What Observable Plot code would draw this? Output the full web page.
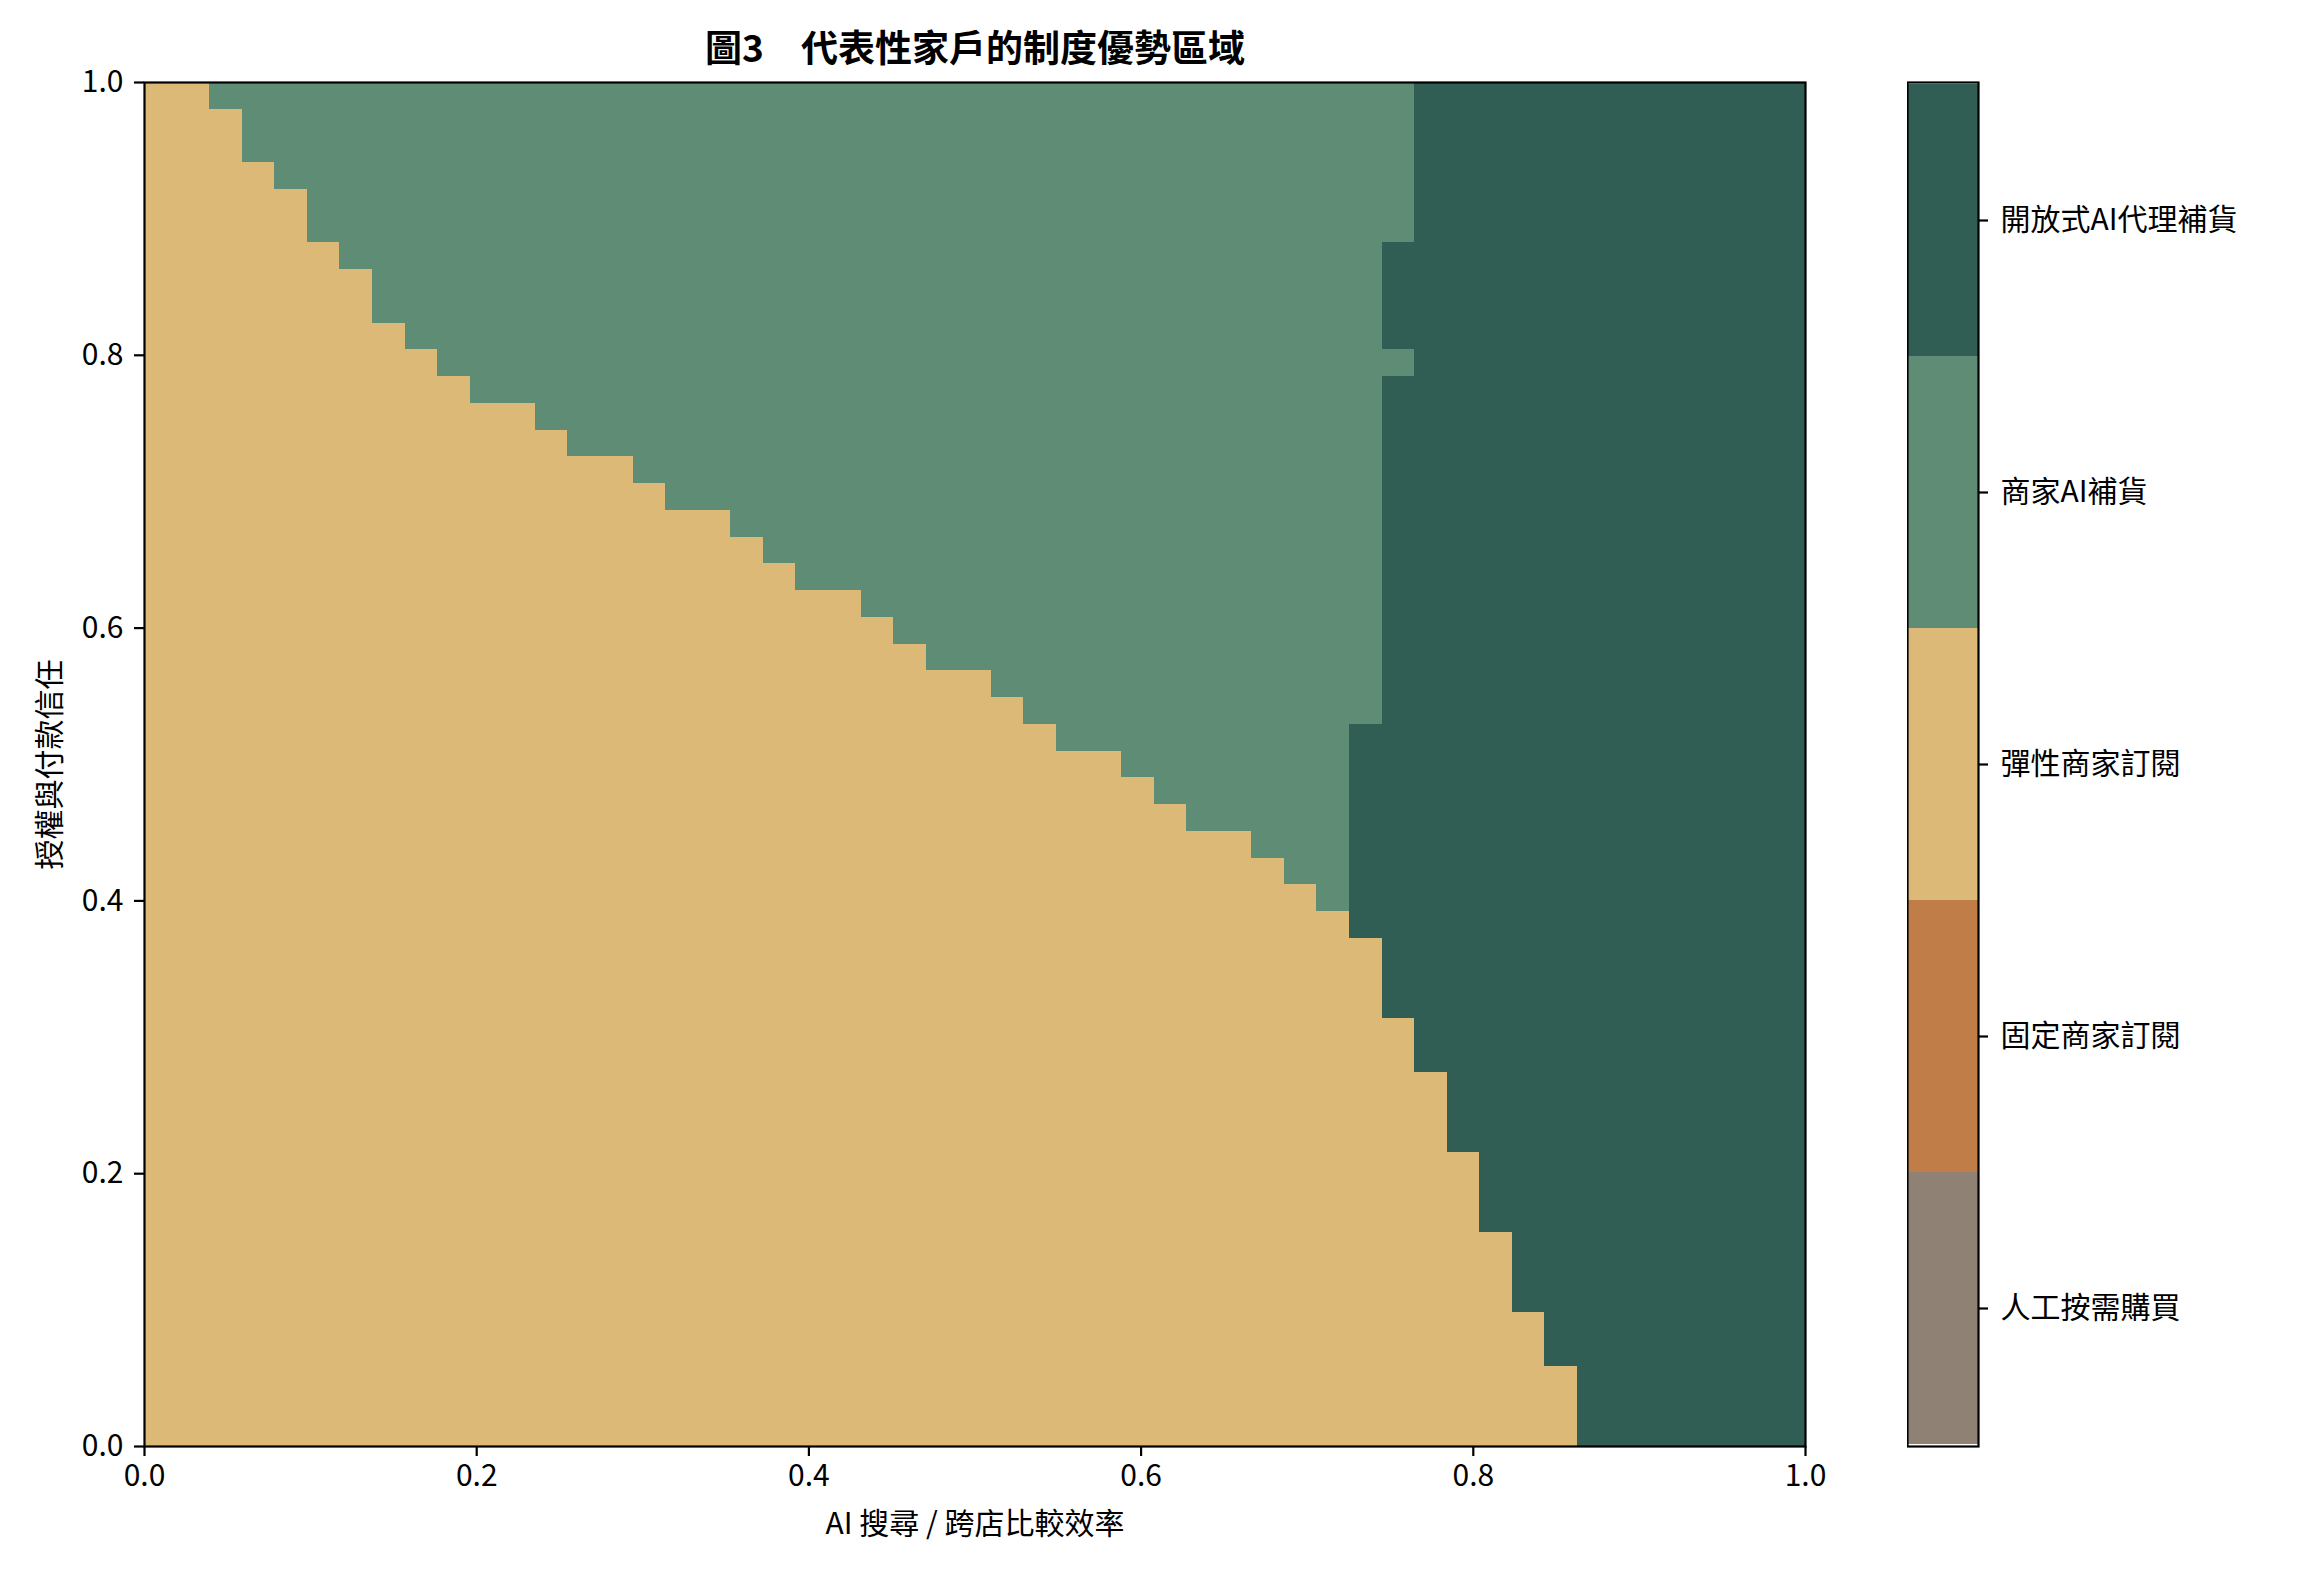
<!DOCTYPE html>
<html>
<head>
<meta charset="utf-8">
<script src="https://cdn.jsdelivr.net/npm/d3@7"></script>
<script src="https://cdn.jsdelivr.net/npm/@observablehq/plot@0.6"></script>
<style>
  html, body { margin: 0; padding: 0; background: #fff; }
  #wrap { position: relative; width: 2310px; height: 1584px; }
  #main, #cbar { position: absolute; top: 0; }
  #main { left: 0; }
  #cbar { left: 1907px; }
</style>
</head>
<body>
<div id="wrap"><div id="main"></div><div id="cbar"></div></div>
<script>
// ---- data ----
const title = "圖3\u3000代表性家戶的制度優勢區域";
const xLabel = "AI 搜尋 / 跨店比較效率";
const yLabel = "授權與付款信任";
const categories = ["人工按需購買", "固定商家訂閱", "彈性商家訂閱", "商家AI補貨", "開放式AI代理補貨"];
const catColors = ["#8f8274", "#c07d48", "#dcb976", "#5f8c75", "#305e55"];
const gridN = 51; // 51 x 51 grid cells over [0,1] x [0,1]
const xTicks = [0, 0.2, 0.4, 0.6, 0.8, 1.0];
const yTicks = [0, 0.2, 0.4, 0.6, 0.8, 1.0];
// per grid row, listed from the top row (y = 1) down to the bottom row (y = 0):
// number of columns (from x = 0) where 彈性商家訂閱 wins
const flexEnd = [2,3,3,4,5,5,6,7,7,8,9,10,12,13,15,16,18,19,20,22,23,24,26,27,28,30,31,32,34,35,36,37,
                 38,38,38,39,39,40,40,40,41,41,41,42,42,42,43,43,44,44,44];
// first column where 開放式AI代理補貨 wins (商家AI補貨 in between)
const openStart = [39,39,39,39,39,39,38,38,38,38,39,38,38,38,38,38,38,38,38,38,38,38,38,38,37,37,37,37,37,37,37,37,
                   38,38,38,39,39,40,40,40,41,41,41,42,42,42,43,43,44,44,44];

// ---- build region runs per row ----
const runs = [];
flexEnd.forEach((fe, t) => {
  const row = gridN - 1 - t;
  const os = openStart[t];
  const segs = [[0, fe, categories[2]], [fe, os, categories[3]], [os, gridN, categories[4]]];
  for (const [a, b, c] of segs) {
    if (b > a) runs.push({x1: a / gridN, x2: b / gridN, y1: row / gridN, y2: (row + 1) / gridN, regime: c});
  }
});

const font = "'Noto Sans CJK TC', 'Noto Sans CJK SC', sans-serif";

const main = Plot.plot({
  width: 2310,
  height: 1584,
  marginLeft: 144,
  marginRight: 505,
  marginTop: 82,
  marginBottom: 138,
  style: {fontFamily: font, fontSize: "30px", color: "#000", background: "#fff"},
  x: {domain: [0, 1]},
  y: {domain: [0, 1]},
  color: {domain: categories, range: catColors},
  marks: [
    Plot.rect(runs, {x1: "x1", x2: "x2", y1: "y1", y2: "y2", fill: "regime", shapeRendering: "crispEdges"}),
    Plot.frame({stroke: "#000", strokeWidth: 2.2}),
    Plot.axisX({ticks: xTicks, tickFormat: d => d.toFixed(1), tickSize: 10, tickPadding: 8, strokeWidth: 2.2, fontSize: 30, label: null}),
    Plot.axisY({ticks: yTicks, tickFormat: d => d.toFixed(1), tickSize: 10, tickPadding: 11, strokeWidth: 2.2, fontSize: 30, label: null}),
    Plot.text([title], {text: d => d, frameAnchor: "top", textAnchor: "middle", lineAnchor: "middle", dy: -32, fontSize: 37, fontWeight: "bold"}),
    Plot.text([xLabel], {text: d => d, frameAnchor: "bottom", textAnchor: "middle", lineAnchor: "middle", dy: 78, fontSize: 30}),
    Plot.text([yLabel], {text: d => d, frameAnchor: "left", textAnchor: "middle", lineAnchor: "middle", rotate: -90, dx: -94, fontSize: 30})
  ]
});
document.getElementById("main").append(main);

const cbar = Plot.plot({
  width: 403,
  height: 1584,
  marginLeft: 0,
  marginRight: 332,
  marginTop: 82,
  marginBottom: 138,
  style: {fontFamily: font, fontSize: "30px", color: "#000", background: "transparent"},
  y: {type: "band", domain: categories.slice().reverse(), padding: 0},
  color: {domain: categories, range: catColors},
  marks: [
    Plot.cell(categories, {y: d => d, fill: d => d, shapeRendering: "crispEdges"}),
    Plot.frame({stroke: "#000", strokeWidth: 2.2}),
    Plot.axisY({anchor: "right", tickSize: 9, tickPadding: 13, strokeWidth: 2.2, fontSize: 30, label: null})
  ]
});
document.getElementById("cbar").append(cbar);
</script>
</body>
</html>
